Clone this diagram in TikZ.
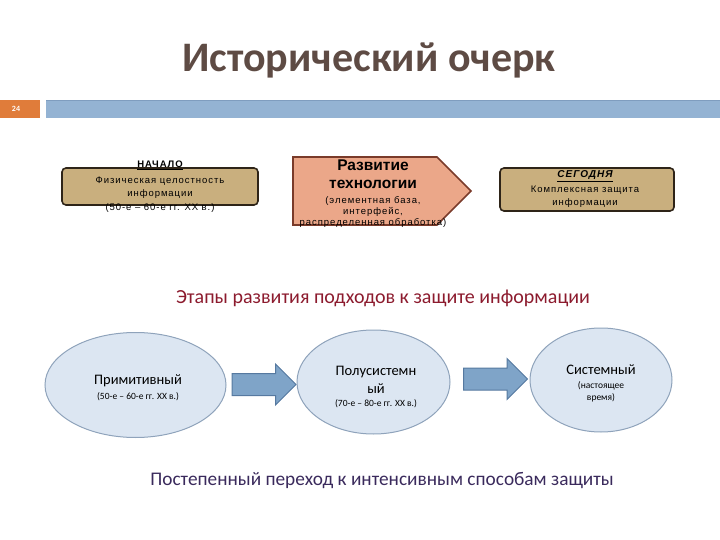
\documentclass[tikz,border=0pt]{standalone}
\usepackage{fontspec}
\setmainfont{Carlito}
\newfontfamily\arialf[LetterSpace=10]{Liberation Sans}
\newfontfamily\arialb{Liberation Sans}
\usetikzlibrary{shapes.arrows,shapes.geometric}
\definecolor{titlec}{HTML}{5E4B44}
\definecolor{numor}{HTML}{E07C3A}
\definecolor{barblue}{HTML}{94B3D3}
\definecolor{bardark}{HTML}{7F9DBF}
\definecolor{tan}{HTML}{C9AF7E}
\definecolor{tanbd}{HTML}{2E2418}
\definecolor{salmon}{HTML}{EBA789}
\definecolor{salbd}{HTML}{7A3B2A}
\definecolor{elfill}{HTML}{DCE6F2}
\definecolor{elbd}{HTML}{8FA3BB}
\definecolor{arfill}{HTML}{7FA4C8}
\definecolor{arbd}{HTML}{5679A0}
\definecolor{redt}{HTML}{8C1B2E}
\definecolor{purt}{HTML}{3A2A5C}
\tikzset{
  tanbox/.style={draw=tanbd,line width=1.6pt,fill=tan,rounded corners=4pt},
  smalltxt/.style={font=\arialf\fontsize{9.5}{11}\selectfont,align=center,inner sep=0pt},
  ell/.style={ellipse,draw=elbd,line width=1pt,fill=elfill,inner sep=0pt},
  blockarrow/.style={single arrow,draw=arbd,line width=1pt,fill=arfill,minimum height=64pt,single arrow head extend=9.5pt,inner sep=0pt,single arrow tip angle=90},
  eltxt/.style={font=\fontsize{14.5}{16}\selectfont,inner sep=0pt},
  elsub/.style={font=\fontsize{9.5}{11}\selectfont,inner sep=0pt},
}
\begin{document}
\begin{tikzpicture}[x=1pt,y=-1pt]
\useasboundingbox (0,0) rectangle (720,540);
% title
\node[font=\bfseries\fontsize{42}{46}\selectfont,text=titlec] (title) at (369,60) {Исторический очерк};
% header bar
\fill[numor] (0,100) rectangle (40,118);
\node[font=\bfseries\fontsize{8}{9}\selectfont,text=white] (num) at (16,109) {24};
\fill[barblue] (46,100) rectangle (720,118);
\draw[bardark,line width=1pt] (46,100.5) -- (720,100.5);
% top row
\draw[tanbox] (62,168) rectangle (258,205);
\node[smalltxt,font=\arialf\bfseries\fontsize{9.5}{11}\selectfont] (b1a) at (160,165) {\underline{НАЧАЛО}};
\node[smalltxt] (b1b) at (160,181) {Физическая целостность};
\node[smalltxt] (b1c) at (160,194) {информации};
\node[smalltxt] (b1d) at (160,208) {(50-е – 60-е гг. XX в.)};
\draw[draw=salbd,line width=1.6pt,fill=salmon] (293,157) -- (437,157) -- (471,191) -- (437,225) -- (293,225) -- cycle;
\node[font=\arialb\bfseries\fontsize{15.5}{17}\selectfont,align=center,inner sep=0pt] (b2a) at (373,165) {Развитие};
\node[font=\arialb\bfseries\fontsize{15.5}{17}\selectfont,align=center,inner sep=0pt] (b2b) at (373,184) {технологии};
\node[smalltxt] (b2c) at (373,201) {(элементная база,};
\node[smalltxt] (b2d) at (373,212) {интерфейс,};
\node[smalltxt] (b2e) at (373,223) {распределенная обработка)};
\draw[tanbox] (500,168) rectangle (674,211);
\node[smalltxt,font=\arialf\bfseries\itshape\fontsize{10}{11}\selectfont] (b3a) at (585,176) {\underline{СЕГОДНЯ}};
\node[smalltxt] (b3b) at (585,190) {Комплексная защита};
\node[smalltxt] (b3c) at (585,203) {информации};
% middle text
\node[font=\fontsize{20}{22}\selectfont,text=redt] (mid) at (383,298) {Этапы развития подходов к защите информации};
% ellipses
\node[ell,minimum width=181pt,minimum height=105pt] (e1) at (135.5,385) {};
\node[ell,minimum width=153pt,minimum height=104pt] (e2) at (373.5,382) {};
\node[ell,minimum width=142pt,minimum height=104pt] (e3) at (601,380) {};
\node[eltxt] (t1a) at (138,381) {Примитивный};
\node[elsub] (t1b) at (138,397) {(50-е – 60-е гг. XX в.)};
\node[eltxt] (t2a) at (376,372) {Полусистемн};
\node[eltxt] (t2b) at (376,389) {ый};
\node[elsub] (t2c) at (376,404) {(70-е – 80-е гг. XX в.)};
\node[eltxt] (t3a) at (601,370) {Системный};
\node[elsub] (t3b) at (601,386) {(настоящее};
\node[elsub] (t3c) at (601,398) {время)};
% block arrows between ellipses
\path (e1.east) -- (e2.west) node[midway,blockarrow,xshift=-3pt,yshift=-1pt] (a1) {\rule{0pt}{21pt}};
\path (e2.east) -- (e3.west) node[midway,blockarrow,yshift=2pt] (a2) {\rule{0pt}{21pt}};
% bottom text
\node[font=\fontsize{19.3}{21}\selectfont,text=purt] (bot) at (382,481) {Постепенный переход к интенсивным способам защиты};
\end{tikzpicture}
\end{document}
